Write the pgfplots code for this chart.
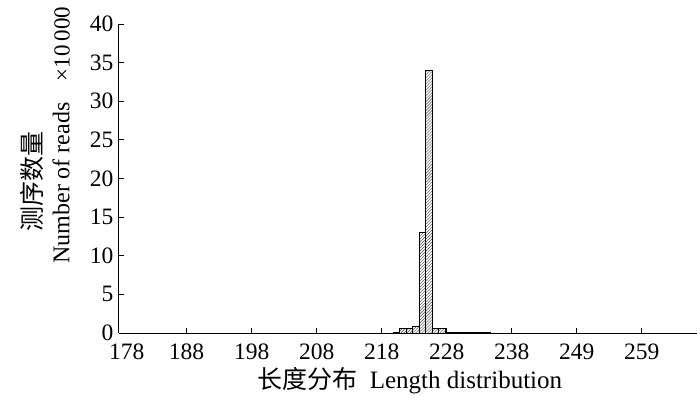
\documentclass[border=0pt]{standalone}
\usepackage{fontspec}
\setmainfont{Liberation Serif}
\newfontfamily\cjk{Noto Sans CJK SC}
\usepackage{pgfplots}
\pgfplotsset{compat=1.18}
\usetikzlibrary{patterns}
\begin{document}
\begin{tikzpicture}
\begin{axis}[
  scale only axis, width=578bp, height=309bp,
  xmin=177.6, xmax=266.5, ymin=0, ymax=40,
  axis x line*=bottom, axis y line*=left,
  axis line style={black, line width=1pt},
  tick align=inside, major tick length=5bp,
  tick style={black, line width=0.9pt},
  xtick={188,198,208,218,228,238,248,258},
  xticklabels={188,198,208,218,228,238,249,259},
  extra x ticks={178.8},
  extra x tick labels={178},
  extra x tick style={major tick length=0pt},
  ytick={0,5,...,40},
  /pgf/number format/assume math mode=true,
  tick label style={font=\fontsize{23.5bp}{25bp}\selectfont},
  xticklabel style={yshift=-7bp},
  yticklabel style={xshift=-2bp},
  enlargelimits=false, clip=false,
]
\addplot[ybar, bar width=1, draw=black, line width=0.8pt, pattern=north east lines, pattern color=black!75]
coordinates {
(220.3,0.08) (221.3,0.6) (222.3,0.65) (223.3,0.9) (224.3,13) (225.3,34) (226.3,0.6) (227.3,0.6)
(228.3,0.08) (229.3,0.06) (230.3,0.06) (231.3,0.06) (232.3,0.06) (233.3,0.06) (234.3,0.06)
};
\node[rotate=90, font=\fontsize{25bp}{27bp}\selectfont\cjk] at (rel axis cs:-0.1505,0.4887) {测序数量};
\node[rotate=90, font=\fontsize{24bp}{27bp}\selectfont] at (rel axis cs:-0.1003,0.4854) {Number of reads};
\node[rotate=90, font=\fontsize{23bp}{27bp}\selectfont] at (rel axis cs:-0.0986,0.935) {×10\,000};
\node[font=\fontsize{25bp}{27bp}\selectfont] at (rel axis cs:0.503,-0.155) {{\cjk 长度分布}\ \ Length distribution};
\path (rel axis cs:0,0) ++(-119bp,-69bp) rectangle ++(700bp,402bp);
\end{axis}
\end{tikzpicture}
\end{document}
